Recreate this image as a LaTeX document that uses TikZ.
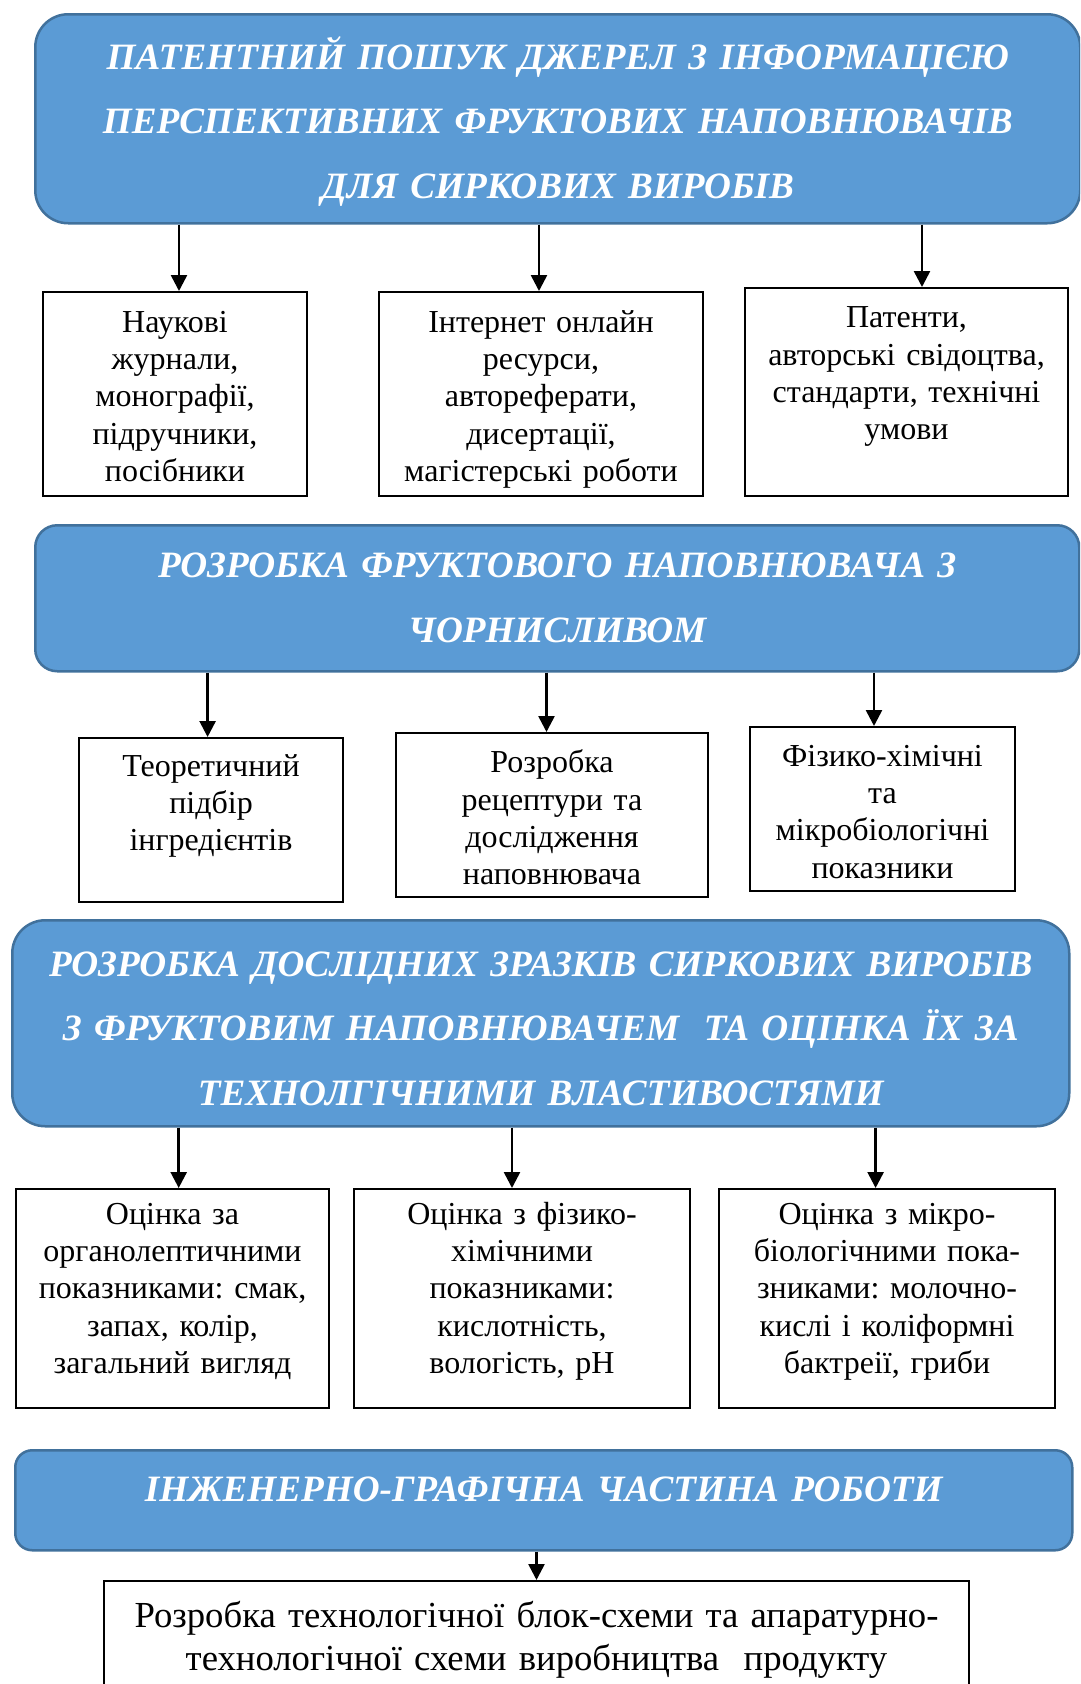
\documentclass[tikz,border=0pt]{standalone}
\usepackage{fontspec}
\setmainfont{Liberation Serif}
\usetikzlibrary{arrows.meta}
\definecolor{headfill}{RGB}{91,155,213}
\definecolor{headdraw}{RGB}{65,113,156}
\newcommand{\headfont}{\fontsize{37.2}{64.5}\selectfont\bfseries\itshape}
\newcommand{\itemfont}{\fontsize{32}{37.4}\selectfont}
\newcommand{\lastfont}{\fontsize{36.7}{43.3}\selectfont}
\frenchspacing

\begin{document}
\begin{tikzpicture}[x=1pt,y=-1pt,>={Triangle[length=16pt,width=16pt]},
                    line width=2.6pt]
  \tikzstyle{head}=[draw=headdraw,fill=headfill,text=white,font=\headfont,
                    align=center,anchor=north west,inner sep=0pt,line width=2.5pt]
  \tikzstyle{item}=[draw,line width=2pt,font=\itemfont,align=center,
                    anchor=north west,inner xsep=4pt,inner ysep=0pt]
  \clip (0,0) rectangle (1080,1684);

  % blue headers
  \node[head,text width=1045pt,text height=55pt,text depth=154pt,rounded corners=33pt]
    (head1) at (34,13) {ПАТЕНТНИЙ ПОШУК ДЖЕРЕЛ З ІНФОРМАЦІЄЮ\\ПЕРСПЕКТИВНИХ ФРУКТОВИХ НАПОВНЮВАЧІВ\\ДЛЯ СИРКОВИХ ВИРОБІВ};
  \node[head,text width=1044pt,text height=52.7pt,text depth=93.3pt,rounded corners=22pt]
    (head2) at (34,524) {РОЗРОБКА ФРУКТОВОГО НАПОВНЮВАЧА З\\ЧОРНИСЛИВОМ};
  \node[head,text width=1057pt,text height=56pt,text depth=150pt,rounded corners=33pt]
    (head3) at (11,919) {РОЗРОБКА ДОСЛІДНИХ ЗРАЗКІВ СИРКОВИХ ВИРОБІВ\\З ФРУКТОВИМ НАПОВНЮВАЧЕМ~ ТА ОЦІНКА ЇХ ЗА\\ТЕХНОЛГІЧНИМИ ВЛАСТИВОСТЯМИ};
  \node[head,text width=1057pt,text height=51pt,text depth=49pt,rounded corners=17pt]
    (head4) at (14,1449) {ІНЖЕНЕРНО-ГРАФІЧНА ЧАСТИНА РОБОТИ};

  % first row
  \node[item,text width=256pt,text height=40pt,text depth=164pt]
    (nauk) at (42,291) {Наукові\\журнали,\\монографії,\\підручники,\\посібники};
  \node[item,text width=316pt,text height=40pt,text depth=164pt]
    (inet) at (378,291) {Інтернет онлайн\\ресурси,\\автореферати,\\дисертації,\\магістерські роботи};
  \node[item,text width=315pt,text height=39.7pt,text depth=168.3pt]
    (pat) at (744,287) {Патенти,\\авторські свідоцтва,\\стандарти, технічні\\умови};

  % second row
  \node[item,text width=256pt,text height=38pt,text depth=126pt]
    (teor) at (78,737) {Теоретичний\\підбір\\інгредієнтів};
  \node[item,text width=304pt,text height=39.7pt,text depth=124.3pt]
    (rozr) at (395,732) {Розробка\\рецептури та\\дослідження\\наповнювача};
  \node[item,text width=257pt,text height=39pt,text depth=125pt]
    (fiz) at (749,726) {Фізико-хімічні\\та\\мікробіологічні\\показники};

  % third row
  \node[item,text width=305pt,text height=35pt,text depth=184pt]
    (org) at (15,1188) {Оцінка за\\органолептичними\\показниками: смак,\\запах, колір,\\загальний вигляд};
  \node[item,text width=328pt,text height=35pt,text depth=184pt]
    (fizkh) at (353,1188) {Оцінка з фізико-\\хімічними\\показниками:\\кислотність,\\вологість, рН};
  \node[item,text width=328pt,text height=35pt,text depth=184pt]
    (mikro) at (718,1188) {Оцінка з мікро-\\біологічними пока-\\зниками: молочно-\\кислі і коліформні\\бактреії, гриби};

  % last box
  \node[item,font=\lastfont,text width=857pt,text height=46pt,text depth=200pt]
    (schema) at (103,1580) {Розробка технологічної блок-схеми та апаратурно-\\технологічної схеми виробництва~ продукту};

  \draw[->] ([xshift=4pt]nauk.north |- head1.south) -- ([xshift=4pt]nauk.north);
  \draw[->] ([xshift=-2pt]inet.north |- head1.south) -- ([xshift=-2pt]inet.north);
  \draw[->] ([xshift=15.5pt]pat.north |- head1.south) -- ([xshift=15.5pt]pat.north);
  \draw[->] ([xshift=-3.4pt]teor.north |- head2.south) -- ([xshift=-3.4pt]teor.north);
  \draw[->] ([xshift=-5.5pt]rozr.north |- head2.south) -- ([xshift=-5.5pt]rozr.north);
  \draw[->] ([xshift=-8.5pt]fiz.north |- head2.south) -- ([xshift=-8.5pt]fiz.north);
  \draw[->] ([xshift=6.2pt]org.north |- head3.south) -- ([xshift=6.2pt]org.north);
  \draw[->] ([xshift=-10pt]fizkh.north |- head3.south) -- ([xshift=-10pt]fizkh.north);
  \draw[->] ([xshift=-11.4pt]mikro.north |- head3.south) -- ([xshift=-11.4pt]mikro.north);
  \draw[->] (schema.north |- head4.south) -- (schema.north);
\end{tikzpicture}
\end{document}
